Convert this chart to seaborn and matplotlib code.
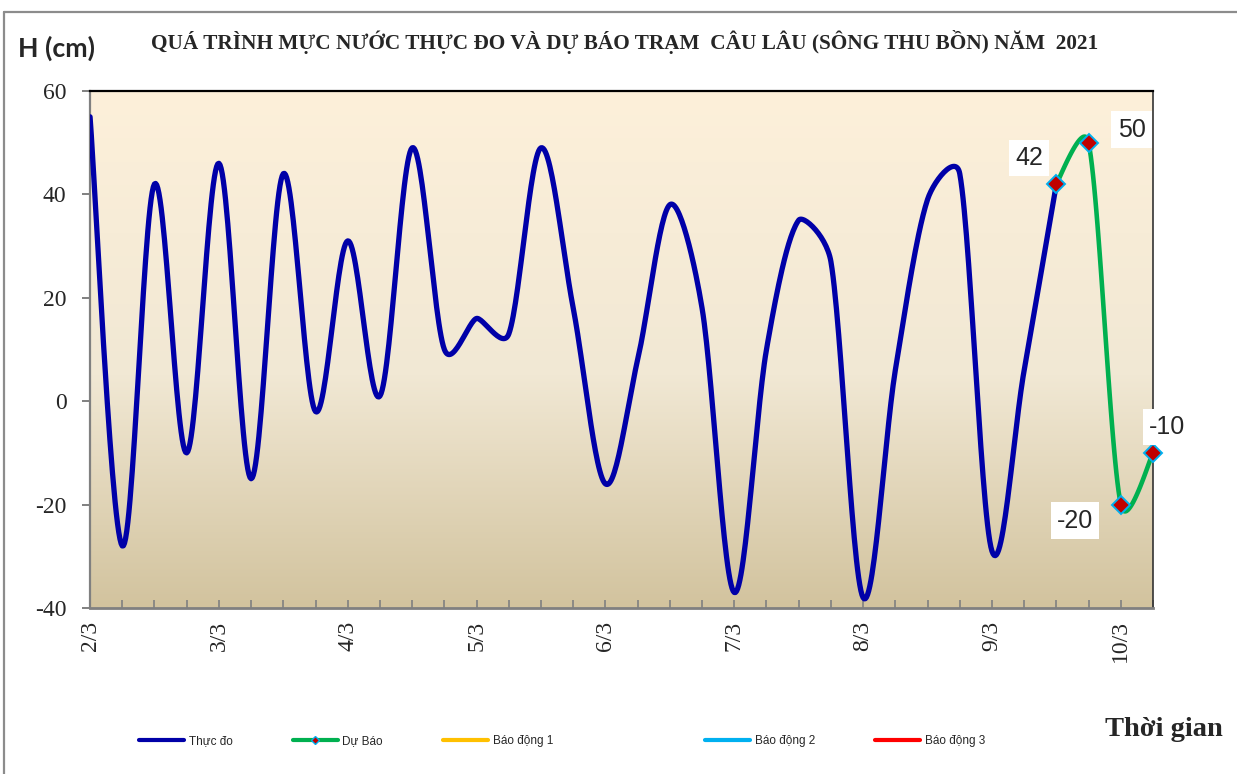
import numpy as np
import pandas as pd
import matplotlib
matplotlib.use("Agg")
import matplotlib.pyplot as plt
import seaborn as sns
from matplotlib.lines import Line2D
from matplotlib.colors import LinearSegmentedColormap

# Data: water level every 6 hours from 2/3 00h (index 0) to 10/3 06h (index 33)
observed = [55, -28, 42, -10, 46, -15, 44, -2, 31, 1, 49, 10, 16, 13, 49, 18,
            -16, 8, 38, 18, -37, 10, 35, 27, -38, 6, 39, 44, -29, 6, 42]
forecast = [42, 50, -20, -10]
forecast_start = 30
day_labels = ['2/3', '3/3', '4/3', '5/3', '6/3', '7/3', '8/3', '9/3', '10/3']
# alarm levels (cm) for Câu Lâu - above the plotted range
alarm_levels = [200, 300, 400]
alarm_names = ['Báo động 1', 'Báo động 2', 'Báo động 3']
alarm_colors = ['#FFC000', '#00B0F0', '#FF0000']


def smooth(xs, ys, sx=32.2, sy=5.16, n=30):
    # Excel "smoothed line": bezier segments, control arms clamped to half the segment
    P = np.column_stack([np.asarray(xs, float) * sx, np.asarray(ys, float) * sy])
    P = np.vstack([P[0], P, P[-1]])
    t = np.linspace(0, 1, n)[:, None]
    out = []
    for i in range(1, len(P) - 2):
        p0, p1, p2, p3 = P[i - 1], P[i], P[i + 1], P[i + 2]
        d12 = np.linalg.norm(p2 - p1)
        d02 = np.linalg.norm(p2 - p0)
        d13 = np.linalg.norm(p3 - p1)
        if d02 / 6 < d12 / 2 and d13 / 6 < d12 / 2:
            b1 = p1 + (p2 - p0) / 6
            b2 = p2 - (p3 - p1) / 6
        elif d02 / 6 >= d12 / 2 and d13 / 6 >= d12 / 2:
            b1 = p1 + (p2 - p0) * d12 / (2 * d02)
            b2 = p2 - (p3 - p1) * d12 / (2 * d13)
        elif d02 / 6 >= d12 / 2:
            b1 = p1 + (p2 - p0) * d12 / (2 * d02)
            b2 = p2 - (p3 - p1) * d12 / (2 * d02)
        else:
            b1 = p1 + (p2 - p0) * d12 / (2 * d13)
            b2 = p2 - (p3 - p1) * d12 / (2 * d13)
        seg = (1 - t) ** 3 * p1 + 3 * (1 - t) ** 2 * t * b1 + 3 * (1 - t) * t ** 2 * b2 + t ** 3 * p2
        out.append(seg)
    out = np.vstack(out)
    return out[:, 0] / sx, out[:, 1] / sy


obs_x = np.arange(len(observed))
fc_x = np.arange(forecast_start, forecast_start + len(forecast))
sx, sy = smooth(obs_x, observed)
fx, fy = smooth(fc_x, forecast)
obs_df = pd.DataFrame({'t': sx, 'h': sy})
fc_df = pd.DataFrame({'t': fx, 'h': fy})

sns.set_style("white")
plt.rcParams['font.family'] = ['Liberation Serif', 'DejaVu Serif']
plt.rcParams['axes.unicode_minus'] = False

fig = plt.figure(figsize=(12.37, 7.74), dpi=100)
ax = fig.add_axes([0.0728, 0.2145, 0.8593, 0.668])

# gradient background
cmap = LinearSegmentedColormap.from_list('bg', [(0, '#D2C39E'), (0.45, '#F1E8D4'), (1, '#FDF0DA')])
grad = np.linspace(0, 1, 256).reshape(-1, 1)
ax.imshow(grad, cmap=cmap, aspect='auto', extent=[0, 33, -40, 60], origin='lower', zorder=0)

for lvl, c in zip(alarm_levels, alarm_colors):
    ax.axhline(lvl, color=c, lw=3.2)

sns.lineplot(data=obs_df, x='t', y='h', sort=False, color='#0000A8', lw=3.8, ax=ax, zorder=3)
sns.lineplot(data=fc_df, x='t', y='h', sort=False, color='#00B050', lw=3.3, ax=ax, zorder=4)
ax.plot(fc_x, forecast, linestyle='none', marker='D', markersize=9.5,
        markerfacecolor='#C00000', markeredgecolor='#00B0F0', markeredgewidth=1.4,
        zorder=5, clip_on=False)

# data labels
offsets = [(-19.5, 18.7), (31, 9.4), (-33, -11.5), (10, 18.7)]
for xv, yv, off in zip(fc_x, forecast, offsets):
    ax.annotate(str(yv), (xv, yv), xytext=off, textcoords='offset points',
                ha='center', va='center', fontsize=18, family='Liberation Sans',
                bbox=dict(boxstyle='square,pad=0.25', fc='white', ec='none'), zorder=6)

ax.set_xlim(0, 33)
ax.set_ylim(-40, 60)
ax.set_yticks([-40, -20, 0, 20, 40, 60])
ax.set_xticks(np.arange(0, 33, 4))
ax.set_xticklabels(day_labels, rotation=90)
ax.set_xticks(np.arange(0, 34, 1), minor=True)
ax.set_xlabel('')
ax.set_ylabel('')
ax.tick_params(axis='y', direction='out', length=6, width=1.4, color='#808080',
               labelsize=17, pad=11, left=True)
ax.tick_params(axis='x', which='both', direction='in', length=6, width=1.2,
               color='#808080', labelsize=17, pad=9, bottom=True)

ax.spines['top'].set_color('black')
ax.spines['top'].set_linewidth(1.6)
ax.spines['right'].set_color('#333333')
ax.spines['right'].set_linewidth(1.2)
ax.spines['left'].set_color('#808080')
ax.spines['left'].set_linewidth(1.6)
ax.spines['bottom'].set_color('#808080')
ax.spines['bottom'].set_linewidth(2)

# texts
fig.text(0.505, 0.946, 'QUÁ TRÌNH MỰC NƯỚC THỰC ĐO VÀ DỰ BÁO TRẠM  CÂU LÂU (SÔNG THU BỒN) NĂM  2021',
         ha='center', va='center', fontsize=15.3, fontweight='bold')
fig.text(0.0146, 0.938, 'H (cm)', ha='left', va='center', fontsize=19.3, fontweight='bold',
         family='Lato')
fig.text(0.893, 0.0575, 'Thời gian', ha='left', va='center', fontsize=20.5, fontweight='bold')

# legend (two groups to keep Excel's uneven spacing)
handles = [
    Line2D([], [], color='#0000A8', lw=3),
    Line2D([], [], color='#00B050', lw=3, marker='D', markersize=4,
           markerfacecolor='#C00000', markeredgecolor='#00B0F0'),
]
labels = ['Thực đo', 'Dự Báo']
for n, c in zip(alarm_names, alarm_colors):
    handles.append(Line2D([], [], color=c, lw=3))
    labels.append(n)
leg_style = dict(frameon=False, prop={'family': 'Liberation Sans', 'size': 8.5},
                 handlelength=3.8, handletextpad=0.4, columnspacing=5.1, borderpad=0,
                 borderaxespad=0, loc='center left')
fig.legend(handles[:3], labels[:3], ncol=3, bbox_to_anchor=(0.1124, 0.0426), **leg_style)
fig.legend(handles[3:], labels[3:], ncol=2, bbox_to_anchor=(0.570, 0.0426), **leg_style)

# outer chart frame (top and left edges)
fig.add_artist(Line2D([0.003, 1], [0.984, 0.984], color='#8c8c8c', lw=1.6, transform=fig.transFigure))
fig.add_artist(Line2D([0.0035, 0.0035], [0, 0.984], color='#8c8c8c', lw=1.6, transform=fig.transFigure))

fig.savefig('out.png', dpi=100)
